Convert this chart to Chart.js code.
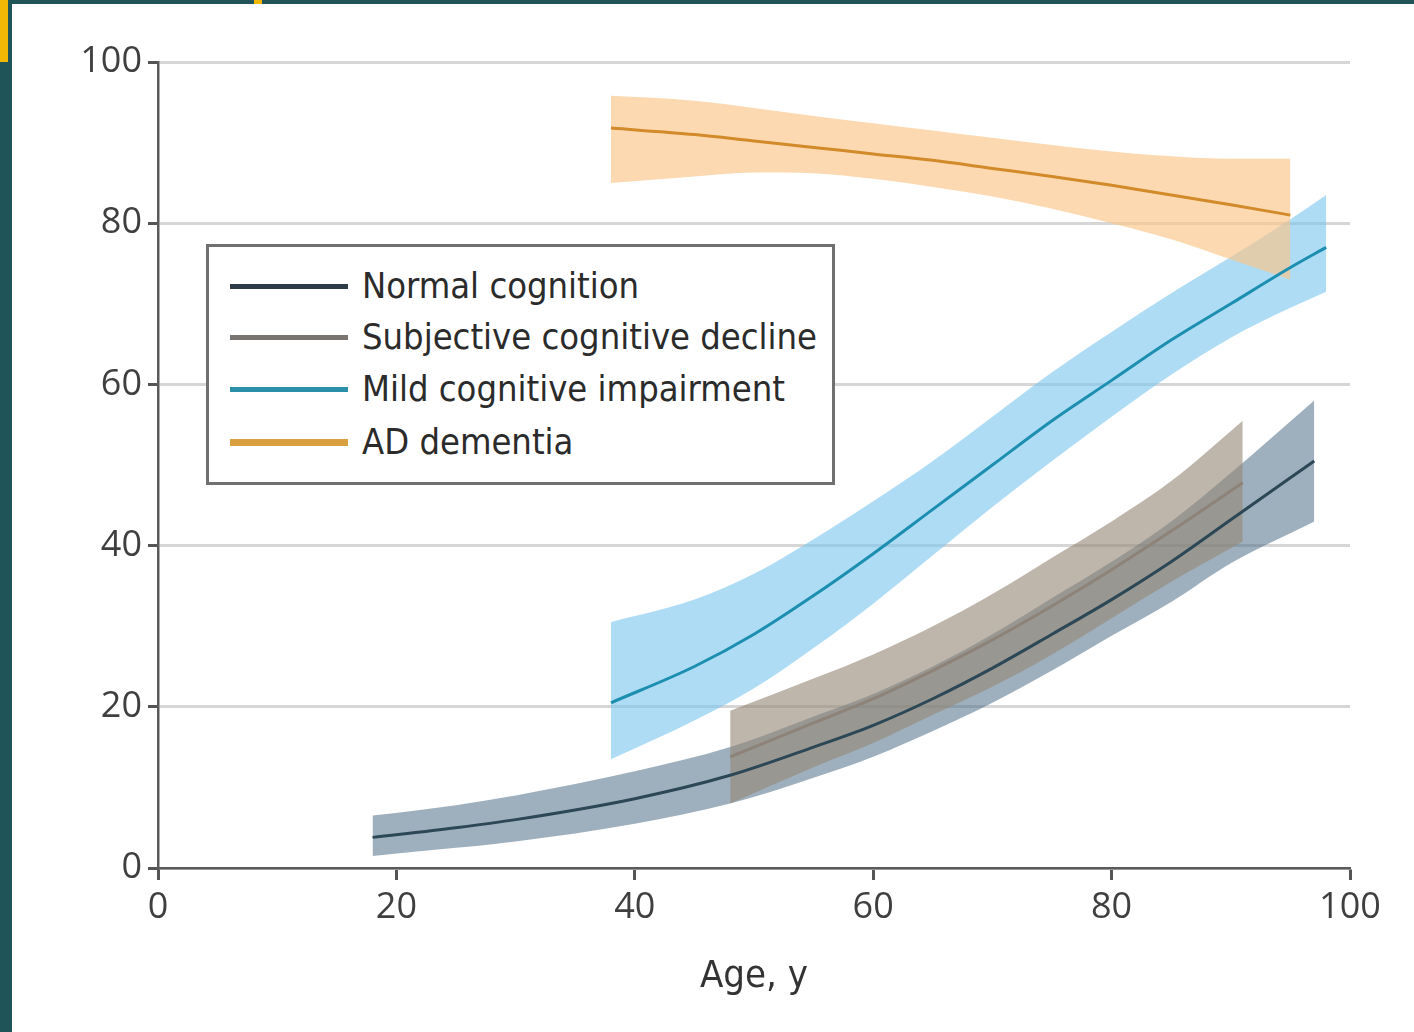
<!DOCTYPE html>
<html>
<head>
<meta charset="utf-8">
<script src="https://cdn.jsdelivr.net/npm/chart.js@4.4.1/dist/chart.umd.min.js"></script>
<style>
  html, body { margin: 0; padding: 0; }
  body { width: 1414px; height: 1032px; background: #1f5559; position: relative; overflow: hidden; }
  #sheet { position: absolute; left: 12px; top: 4px; width: 1402px; height: 1028px; background: #fff; }
  #wrap { position: absolute; left: 0; top: 0; width: 1402px; height: 1028px; }
  .mark { position: absolute; background: #f2b705; }
  #legend {
    position: absolute; left: 194px; top: 240px; width: 623px; height: 235px;
    border: 3px solid #707070; background: #fff;
    font-family: "Liberation Sans Narrow", "DejaVu Sans Condensed", "Open Sans", sans-serif;
    font-size: 36px; color: #2b2b2b;
  }
  .row { position: absolute; left: 0; height: 40px; }
  .swatch { position: absolute; left: 21px; width: 118px; height: 5px; top: 18px; }
  .label { position: absolute; left: 153px; top: 0; line-height: 40px; white-space: nowrap; }
</style>
</head>
<body>
<div class="mark" style="left:0;top:0;width:8px;height:62px"></div>
<div class="mark" style="left:254px;top:0;width:8px;height:4px"></div>
<div id="sheet">
  <div id="wrap"><canvas id="chart"></canvas></div>
  <div id="legend"></div>
</div>
<script>
// Normal cognition
const ncAge   = [18, 25, 30, 40, 48, 55, 60, 65, 70, 75, 80, 85, 90, 97];
const ncMean  = [3.8, 5.0, 6.0, 8.6, 11.5, 15.0, 17.7, 21.0, 24.8, 29.0, 33.3, 38.0, 43.2, 50.5];
const ncLow   = [1.5, 2.5, 3.3, 5.5, 8.0, 11.2, 13.8, 17.0, 20.5, 24.5, 28.8, 33.0, 37.8, 43.0];
const ncHigh  = [6.5, 7.8, 9.0, 12.0, 15.0, 18.8, 21.6, 25.0, 29.0, 33.5, 38.0, 43.0, 49.0, 58.0];

// Subjective cognitive decline
const scdAge  = [48, 55, 60, 65, 70, 75, 80, 85, 91];
const scdMean = [13.8, 18.0, 21.0, 24.5, 28.3, 32.5, 37.0, 41.8, 47.8];
const scdLow  = [8.0, 12.5, 15.5, 19.0, 22.5, 26.5, 31.0, 35.5, 40.5];
const scdHigh = [19.5, 23.5, 26.5, 30.0, 34.0, 38.5, 43.0, 48.0, 55.5];

// Mild cognitive impairment
const mciAge  = [38, 45, 50, 55, 60, 65, 70, 75, 80, 85, 90, 95, 98];
const mciMean = [20.5, 25.0, 29.0, 33.8, 39.0, 44.5, 50.0, 55.5, 60.5, 65.5, 70.0, 74.5, 77.0];
const mciLow  = [13.5, 18.3, 22.3, 27.3, 32.8, 38.8, 44.8, 50.5, 56.0, 61.2, 65.8, 69.5, 71.5];
const mciHigh = [30.5, 33.3, 36.5, 40.8, 45.5, 50.5, 56.0, 61.5, 66.5, 71.3, 75.8, 80.5, 83.5];

// AD dementia
const adAge   = [38, 45, 50, 55, 60, 65, 70, 75, 80, 85, 90, 95];
const adMean  = [91.8, 91.0, 90.2, 89.4, 88.6, 87.8, 86.8, 85.8, 84.7, 83.5, 82.3, 81.0];
const adLow   = [85.0, 85.8, 86.3, 86.2, 85.5, 84.5, 83.3, 81.8, 80.0, 78.0, 75.5, 73.0];
const adHigh  = [95.8, 95.2, 94.3, 93.3, 92.4, 91.5, 90.6, 89.7, 88.9, 88.3, 88.0, 88.0];

const xTicks = [0, 20, 40, 60, 80, 100];
const yTicks = [0, 20, 40, 60, 80, 100];
const seriesNames = ["Normal cognition", "Subjective cognitive decline", "Mild cognitive impairment", "AD dementia"];

const series = [
  { age: ncAge,  mean: ncMean,  low: ncLow,  high: ncHigh,  line: "#2c4756", band: "rgba(78,112,134,0.55)", swatch: "#2d3d47" },
  { age: scdAge, mean: scdMean, low: scdLow, high: scdHigh, line: "#8d8378", band: "rgba(150,136,120,0.62)", swatch: "#7a7470" },
  { age: mciAge, mean: mciMean, low: mciLow, high: mciHigh, line: "#1c8fb0", band: "rgba(120,196,238,0.6)", swatch: "#2a8fa8" },
  { age: adAge,  mean: adMean,  low: adLow,  high: adHigh,  line: "#d38a2a", band: "rgba(250,196,135,0.65)", swatch: "#d9a040" }
];

const pts = (xs, ys) => xs.map((x, i) => ({ x: x, y: ys[i] }));

const datasets = [];
// bands first (drawn underneath thanks to higher order)
series.forEach((s, k) => {
  const lowIdx = datasets.length;
  datasets.push({
    data: pts(s.age, s.low), borderWidth: 0, pointRadius: 0, fill: false,
    cubicInterpolationMode: "monotone", order: 10 - k
  });
  datasets.push({
    data: pts(s.age, s.high), borderWidth: 0, pointRadius: 0,
    fill: { target: lowIdx }, backgroundColor: s.band,
    cubicInterpolationMode: "monotone", order: 10 - k
  });
});
// lines on top
series.forEach((s, k) => {
  datasets.push({
    label: seriesNames[k],
    data: pts(s.age, s.mean), borderColor: s.line, borderWidth: 3, pointRadius: 0,
    fill: false, cubicInterpolationMode: "monotone", order: k === 1 ? 2 : 1
  });
});

const tickFont = { family: "'Open Sans', 'DejaVu Sans', sans-serif", size: 36 };

new Chart(document.getElementById("chart"), {
  type: "line",
  data: { datasets: datasets },
  options: {
    responsive: true,
    maintainAspectRatio: false,
    animation: false,
    parsing: false,
    layout: { padding: { top: 58, right: 64, left: 0, bottom: 0 } },
    plugins: { legend: { display: false }, tooltip: { enabled: false } },
    scales: {
      x: {
        type: "linear", min: 0, max: 100,
        afterBuildTicks: (sc) => { sc.ticks = xTicks.map(v => ({ value: v })); },
        afterFit: (sc) => { sc.height = 164; },
        ticks: { font: tickFont, color: "#3f3f3f", padding: 6 },
        grid: { drawOnChartArea: false, tickLength: 12, tickColor: "#555", tickWidth: 3 },
        border: { color: "#5a5a5a", width: 2.5 },
        title: {
          display: true, text: "Age, y", color: "#333",
          font: { family: "'Liberation Sans Narrow', 'DejaVu Sans Condensed', sans-serif", size: 38 },
          padding: { top: 10, bottom: 32 }
        }
      },
      y: {
        type: "linear", min: 0, max: 100,
        afterBuildTicks: (sc) => { sc.ticks = yTicks.map(v => ({ value: v })); },
        afterFit: (sc) => { sc.width = 146; },
        ticks: { font: tickFont, color: "#3f3f3f", padding: 6 },
        grid: { color: "#d6d6d6", lineWidth: 3, tickLength: 10, tickColor: "#555", tickWidth: 3 },
        border: { color: "#5a5a5a", width: 2.5 }
      }
    }
  }
});

// legend as html text
const legend = document.getElementById("legend");
const rowTops = [19, 70, 122, 175];
series.forEach((s, k) => {
  const row = document.createElement("div");
  row.className = "row";
  row.style.top = rowTops[k] + "px";
  row.innerHTML = '<div class="swatch" style="background:' + s.swatch + (k === 3 ? ';height:7px;top:17px' : '') + '"></div>' +
                  '<div class="label">' + seriesNames[k] + '</div>';
  legend.appendChild(row);
});
</script>
</body>
</html>
